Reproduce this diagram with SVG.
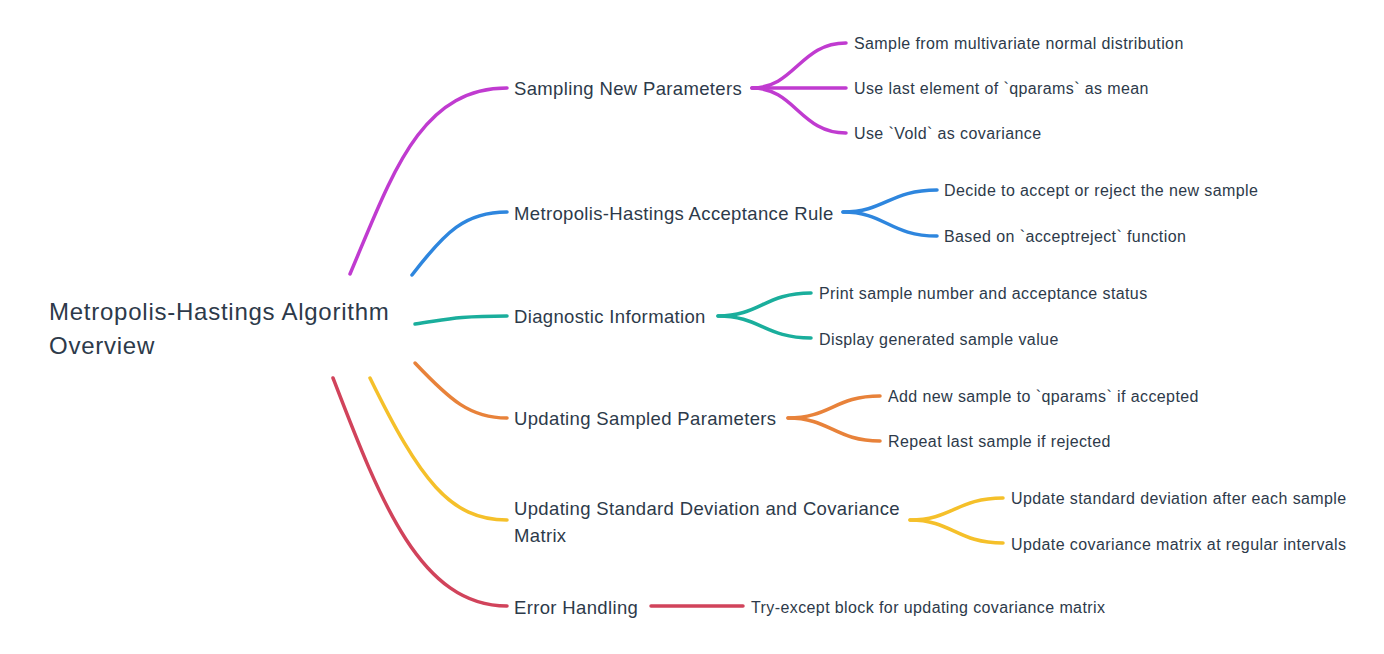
<svg xmlns="http://www.w3.org/2000/svg" width="1384" height="654" viewBox="0 0 1384 654">
<style>
text{font-family:"Liberation Sans","DejaVu Sans",sans-serif;fill:#2d3a4a}
.root{font-size:24px;letter-spacing:0.75px}
.br{font-size:18.5px;letter-spacing:0.35px}
.lf{font-size:16px;letter-spacing:0.4px}
.c{fill:none;stroke-width:3.5;stroke-linecap:round}
.p{stroke:#c03bd0}.b{stroke:#2e86de}.t{stroke:#1aae9c}.o{stroke:#e8823a}.y{stroke:#f5c02a}.r{stroke:#d1435b}
</style>
<rect width="1384" height="654" fill="#ffffff"/>
<g id="connectors">
<path class="c p" d="M350,274 C392,175 420,88 507,88"/>
<path class="c b" d="M412,275 C445,232 465,212 507,212"/>
<path class="c t" d="M415,324 C445,320 455,316 507,316"/>
<path class="c o" d="M415,363 C450,400 470,418 507,418"/>
<path class="c y" d="M370,378 C420,480 450,520 507,520"/>
<path class="c r" d="M333,378 C380,500 420,606 507,606"/>
<path class="c p" d="M752,88 C795,88 800,43 846,43"/>
<path class="c p" d="M752,88 L846,88"/>
<path class="c p" d="M752,88 C795,88 800,133 846,133"/>
<path class="c b" d="M843,212 C885,212 890,190 937,190"/>
<path class="c b" d="M843,212 C885,212 890,236 937,236"/>
<path class="c t" d="M718,316 C760,316 765,293 811,293"/>
<path class="c t" d="M718,316 C760,316 765,338 811,338"/>
<path class="c o" d="M788,418 C830,418 835,396 880,396"/>
<path class="c o" d="M788,418 C830,418 835,441 880,441"/>
<path class="c y" d="M910,520 C952,520 957,498 1003,498"/>
<path class="c y" d="M910,520 C952,520 957,543 1003,543"/>
<path class="c r" d="M651,606 L743,606"/>
</g>
<g id="root"><text class="root" x="49" y="320">Metropolis-Hastings Algorithm</text><text class="root" x="49" y="354">Overview</text></g>
<g id="n1"><text class="br" x="514" y="94.5">Sampling New Parameters</text></g>
<g id="n1a"><text class="lf" x="854" y="48.5">Sample from multivariate normal distribution</text></g>
<g id="n1b"><text class="lf" x="854" y="93.5">Use last element of `qparams` as mean</text></g>
<g id="n1c"><text class="lf" x="854" y="138.5">Use `Vold` as covariance</text></g>
<g id="n2"><text class="br" x="514" y="219.5">Metropolis-Hastings Acceptance Rule</text></g>
<g id="n2a"><text class="lf" x="944" y="195.5">Decide to accept or reject the new sample</text></g>
<g id="n2b"><text class="lf" x="944" y="241.5">Based on `acceptreject` function</text></g>
<g id="n3"><text class="br" x="514" y="322.5">Diagnostic Information</text></g>
<g id="n3a"><text class="lf" x="819" y="298.5">Print sample number and acceptance status</text></g>
<g id="n3b"><text class="lf" x="819" y="344.5">Display generated sample value</text></g>
<g id="n4"><text class="br" x="514" y="424.5">Updating Sampled Parameters</text></g>
<g id="n4a"><text class="lf" x="888" y="401.5">Add new sample to `qparams` if accepted</text></g>
<g id="n4b"><text class="lf" x="888" y="446.5">Repeat last sample if rejected</text></g>
<g id="n5"><text class="br" x="514" y="514.5">Updating Standard Deviation and Covariance</text><text class="br" x="514" y="541.5">Matrix</text></g>
<g id="n5a"><text class="lf" x="1011" y="503.5">Update standard deviation after each sample</text></g>
<g id="n5b"><text class="lf" x="1011" y="549.5">Update covariance matrix at regular intervals</text></g>
<g id="n6"><text class="br" x="514" y="613.5">Error Handling</text></g>
<g id="n6a"><text class="lf" x="751" y="612.5">Try-except block for updating covariance matrix</text></g>
</svg>
